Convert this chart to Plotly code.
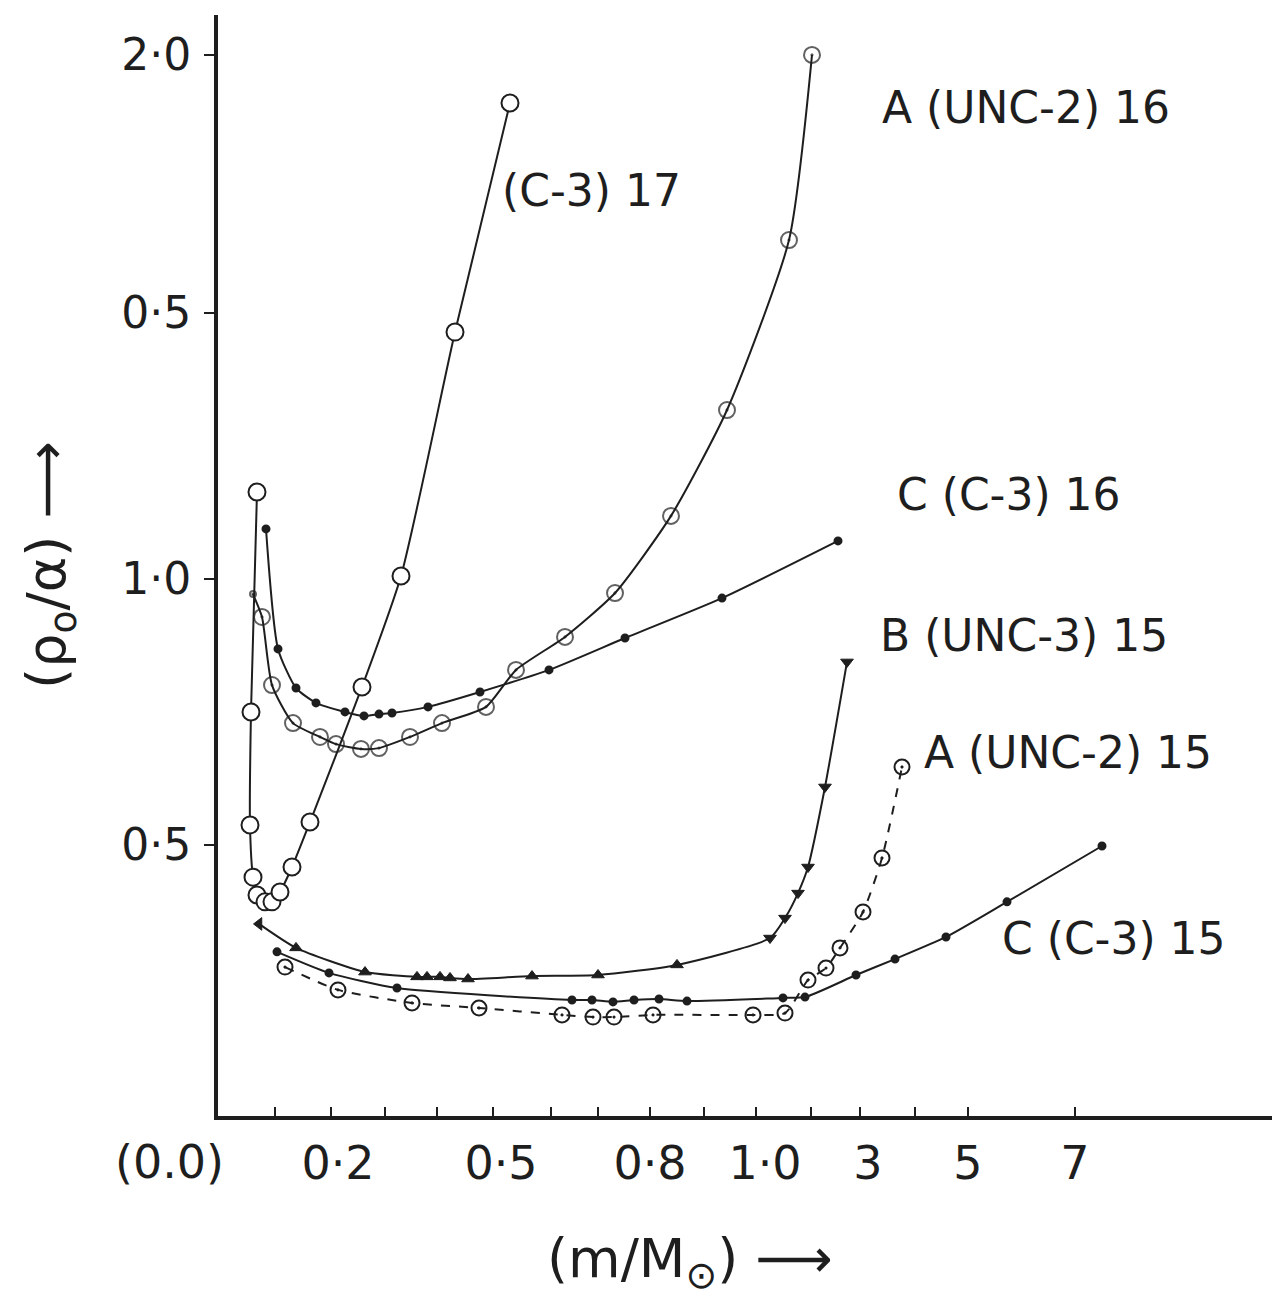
import plotly.graph_objects as go

# ---- axis ticks (axis position units) ----
y_tick_pos = [1.02, 2.02, 3.02, 3.99]
y_tick_text = ["0·5", "1·0", "0·5", "2·0"]
x_label_pos = [1.20, 2.83, 4.32, 5.47, 6.50, 7.50, 8.57]
x_label_text = ["0·2", "0·5", "0·8", "1·0", "3", "5", "7"]
x_minor_pos = [0.57, 1.13, 1.67, 2.19, 2.75, 3.33, 3.80, 4.32, 4.86, 5.38,
               5.93, 6.42, 6.97, 7.50, 8.57]

# ---- series ----
c3_17_x = [0.39, 0.33, 0.32, 0.35, 0.39, 0.47, 0.54, 0.62, 0.74, 0.92, 1.44, 1.83, 2.37, 2.92]
c3_17_y = [2.346, 1.519, 1.094, 0.898, 0.831, 0.805, 0.805, 0.842, 0.936, 1.105, 1.613, 2.030, 2.947, 3.808]

a_unc2_16_x = [0.35, 0.44, 0.54, 0.75, 1.02, 1.18, 1.43, 1.61, 1.92, 2.24, 2.68, 2.98, 3.47, 3.97, 4.53, 5.09, 5.71, 5.94]
a_unc2_16_y = [1.962, 1.876, 1.620, 1.477, 1.425, 1.398, 1.380, 1.383, 1.425, 1.477, 1.538, 1.677, 1.801, 1.966, 2.256, 2.654, 3.293, 3.989]

c_c3_16_x = [0.48, 0.60, 0.78, 0.98, 1.27, 1.46, 1.61, 1.74, 2.10, 2.62, 3.31, 4.07, 5.04, 6.20]
c_c3_16_y = [2.207, 1.756, 1.609, 1.553, 1.519, 1.504, 1.511, 1.515, 1.538, 1.594, 1.677, 1.797, 1.947, 2.162]

b_unc3_15_x = [0.41, 0.78, 1.47, 1.99, 2.09, 2.22, 2.32, 2.50, 3.14, 3.80, 4.59, 5.52, 5.67, 5.80, 5.90, 6.07, 6.29]
b_unc3_15_y = [0.722, 0.632, 0.541, 0.523, 0.523, 0.523, 0.519, 0.515, 0.526, 0.530, 0.568, 0.669, 0.744, 0.838, 0.936, 1.237, 1.707]

c_c3_15_x = [0.59, 1.11, 1.79, 3.54, 3.74, 3.95, 4.16, 4.41, 4.69, 5.65, 5.87, 6.38, 6.77, 7.28, 7.89, 8.84]
c_c3_15_y = [0.617, 0.538, 0.481, 0.436, 0.436, 0.429, 0.436, 0.440, 0.432, 0.444, 0.447, 0.530, 0.590, 0.673, 0.805, 1.015]

a_unc2_15_x = [0.67, 1.20, 1.94, 2.61, 3.44, 3.75, 3.96, 4.35, 5.35, 5.67, 5.90, 6.08, 6.22, 6.45, 6.64, 6.84]
a_unc2_15_y = [0.560, 0.474, 0.425, 0.406, 0.380, 0.372, 0.372, 0.380, 0.380, 0.387, 0.511, 0.556, 0.632, 0.767, 0.970, 1.312]

labels = ["A (UNC-2) 16", "(C-3) 17", "C (C-3) 16", "B (UNC-3) 15", "A (UNC-2) 15", "C (C-3) 15"]
label_x = [6.62, 2.82, 6.77, 6.60, 7.04, 7.82]
label_y = [3.79, 3.48, 2.335, 1.808, 1.368, 0.669]

FONT = "DejaVu Sans"
BLACK = "#1e1e1e"

fig = go.Figure()

def add(x, y, symbol, size, fill, dash="solid", lw=2, sizes=None, mlw=2):
    fig.add_trace(go.Scatter(
        x=x, y=y, mode="lines+markers",
        line=dict(color=BLACK, width=lw, dash=dash, shape="spline", smoothing=0.6),
        marker=dict(symbol=symbol, size=sizes if sizes else size, color=fill,
                    line=dict(color=BLACK, width=mlw)),
        showlegend=False, cliponaxis=False))

add(c3_17_x, c3_17_y, "circle", 17, "white")
a16_sizes = [6] + [16] * (len(a_unc2_16_x) - 1)
add(a_unc2_16_x, a_unc2_16_y, "circle-open-dot", 16, BLACK, sizes=a16_sizes)
add(c_c3_16_x, c_c3_16_y, "circle", 7, BLACK)
b_sym = ["triangle-left"] + ["triangle-up"] * 10 + ["triangle-down"] * 6
fig.add_trace(go.Scatter(
    x=b_unc3_15_x, y=b_unc3_15_y, mode="lines+markers",
    line=dict(color=BLACK, width=2, shape="spline", smoothing=0.6),
    marker=dict(symbol=b_sym, size=11, color=BLACK, line=dict(color=BLACK, width=1)),
    showlegend=False, cliponaxis=False))
add(c_c3_15_x, c_c3_15_y, "circle", 7, BLACK)
add(a_unc2_15_x, a_unc2_15_y, "circle-open-dot", 15, BLACK, dash="dash")

for t, lx, ly in zip(labels, label_x, label_y):
    fig.add_annotation(x=lx, y=ly, text=t, showarrow=False, xanchor="left",
                       yanchor="middle", font=dict(family=FONT, size=44, color=BLACK))

fig.add_annotation(xref="paper", yref="paper", x=-0.0452, y=-0.0418, text="(0.0)",
                   showarrow=False, xanchor="center", yanchor="middle",
                   font=dict(family=FONT, size=46, color=BLACK))
fig.add_annotation(xref="paper", yref="paper", x=0.444, y=-0.1326,
                   text="(m/M<sub>⊙</sub>) ⟶", showarrow=False,
                   xanchor="center", yanchor="middle",
                   font=dict(family=FONT, size=54, color=BLACK))
fig.add_annotation(xref="paper", yref="paper", x=-0.1582, y=0.5005,
                   text="(ρ<sub>o</sub>/α) ⟶", showarrow=False, textangle=-90,
                   xanchor="center", yanchor="middle",
                   font=dict(family=FONT, size=54, color=BLACK))

fig.update_layout(
    width=1272, height=1301,
    margin=dict(l=210, r=0, t=7, b=193),
    paper_bgcolor="white", plot_bgcolor="white",
    xaxis=dict(range=[0, 10.62], showgrid=False, zeroline=False,
               showline=True, linecolor=BLACK, linewidth=4,
               tickmode="array", tickvals=x_label_pos, ticktext=x_label_text,
               ticks="", ticklabelstandoff=4,
               tickfont=dict(family=FONT, size=46, color=BLACK),
               minor=dict(tickmode="array", tickvals=x_minor_pos, ticks="inside",
                          ticklen=9, tickcolor=BLACK, tickwidth=2, showgrid=False)),
    yaxis=dict(range=[0, 4.139], showgrid=False, zeroline=False,
               showline=True, linecolor=BLACK, linewidth=4,
               tickmode="array", tickvals=y_tick_pos, ticktext=y_tick_text,
               ticks="outside", ticklen=10, tickwidth=2, tickcolor=BLACK,
               ticklabelstandoff=4,
               tickfont=dict(family=FONT, size=44, color=BLACK)),
)

fig.write_html("out.html")
